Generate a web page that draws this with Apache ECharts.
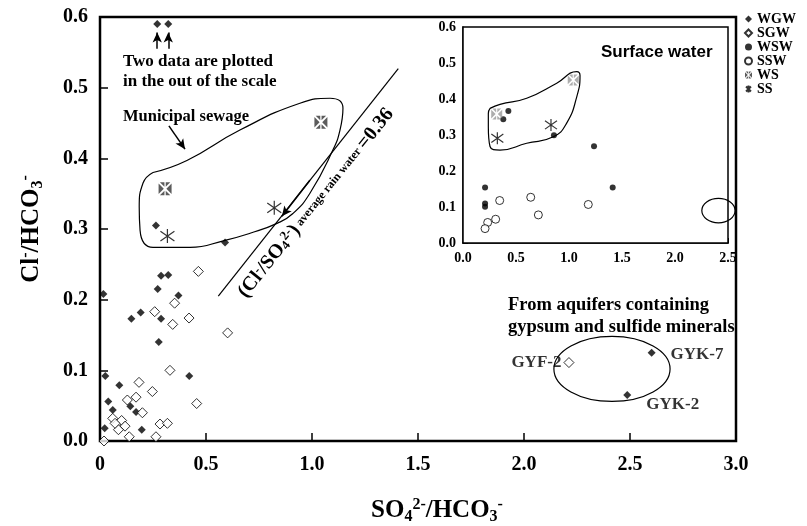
<!DOCTYPE html>
<html>
<head>
<meta charset="utf-8">
<script src="https://cdn.jsdelivr.net/npm/echarts@6/dist/echarts.min.js"></script>
<style>
html, body { margin: 0; padding: 0; background: #fff; }
#main { width: 807px; height: 526px; }
</style>
</head>
<body>
<div id="main"></div>
<script>
// main plot (groundwater + municipal sewage)
var wgw = [[0.288,0.234],[0.322,0.235],[0.016,0.208],[0.272,0.215],[0.37,0.206],[0.148,0.173],[0.192,0.182],
  [0.288,0.173],[0.277,0.14],[0.025,0.092],[0.091,0.079],[0.421,0.092],[0.039,0.056],[0.06,0.044],[0.143,0.049],
  [0.17,0.041],[0.022,0.018],[0.197,0.016],[0.264,0.305],[0.59,0.281]];
var wgwOutOfScale = [[0.27,0.59],[0.322,0.59]];
var sgw = [[0.464,0.24],[0.352,0.195],[0.258,0.183],[0.42,0.174],[0.343,0.165],[0.602,0.153],[0.33,0.1],
  [0.184,0.083],[0.247,0.07],[0.456,0.053],[0.129,0.058],[0.17,0.062],[0.2,0.04],[0.06,0.032],[0.102,0.029],
  [0.118,0.021],[0.087,0.016],[0.071,0.025],[0.283,0.024],[0.318,0.025],[0.138,0.006],[0.264,0.006],[0.019,0.0]];
var gypWgw = [[2.602,0.125],[2.487,0.065]];
var gypWgwNames = ['GYK-7','GYK-2'];
var gypSgw = [[2.212,0.111]];
var gypSgwNames = ['GYF-2'];
var wsMain = [[0.307,0.357],[1.042,0.451]];
var ssMain = [[0.318,0.29],[0.822,0.33]];
var sewageMain = [[0.25,0.380],[0.41,0.397],[0.66,0.440],[0.943,0.478],[1.085,0.485],[1.146,0.471],[1.132,0.440],
  [1.099,0.412],[0.991,0.351],[0.910,0.322],[0.835,0.308],[0.708,0.294],[0.590,0.284],[0.425,0.274],[0.25,0.274],
  [0.189,0.298],[0.185,0.331],[0.203,0.365],[0.25,0.380]];
var rainLine = [[0.558,0.205],[1.407,0.527]];
var gypEllipse = {cx: 2.415, cy: 0.102, rx: 0.274, ry: 0.046};
var mainXLabels = ['0','0.5','1.0','1.5','2.0','2.5','3.0'];
var mainYLabels = ['0.0','0.1','0.2','0.3','0.4','0.5','0.6'];

// inset (surface water)
var wsw = [[0.38,0.344],[0.428,0.367],[0.858,0.299],[1.236,0.269],[1.412,0.154],[0.208,0.154],[0.208,0.110],[0.208,0.101]];
var ssw = [[0.346,0.118],[0.639,0.127],[0.711,0.078],[1.182,0.107],[0.308,0.066],[0.233,0.057],[0.208,0.040]];
var wsInset = [[0.318,0.358],[1.04,0.453]];
var ssInset = [[0.324,0.291],[0.83,0.328]];
var sewageInset = [[0.255,0.374],[0.349,0.385],[0.601,0.402],[0.884,0.444],[1.073,0.476],[1.104,0.465],[1.073,0.406],
  [0.978,0.333],[0.852,0.295],[0.601,0.277],[0.349,0.258],[0.255,0.268],[0.239,0.323],[0.239,0.360],[0.255,0.374]];
var insetEllipse = {cx: 2.41, cy: 0.090, rx: 0.157, ry: 0.034};
var insetXLabels = ['0.0','0.5','1.0','1.5','2.0','2.5'];
var insetYLabels = ['0.0','0.1','0.2','0.3','0.4','0.5','0.6'];

var serif = 'Liberation Serif';
var wsPath = 'path://M1,0L4.5,0L4.5,3.5Z M5.5,0L9,0L5.5,3.5Z M10,1L10,9L6,5Z M9,10L5.5,10L5.5,6.5Z M4.5,10L1,10L4.5,6.5Z M0,9L0,1L4,5Z';
var ssPath = 'path://M5,0L5,10M1.5,1.5L8.5,8.5M1.5,8.5L8.5,1.5';

var chart = echarts.init(document.getElementById('main'));

function tickLbl(arr, step) {
  return function (v) { var i = Math.round(v / step); return arr[i] !== undefined ? arr[i] : ''; };
}

var titleRich = {
  a: { fontFamily: serif, fontWeight: 'bold', fontSize: 25, color: '#000' },
  sub: { fontFamily: serif, fontWeight: 'bold', fontSize: 16, color: '#000', verticalAlign: 'bottom', padding: [12, 0, 0, 0] },
  sup: { fontFamily: serif, fontWeight: 'bold', fontSize: 16, color: '#000', verticalAlign: 'top', padding: [0, 0, 12, 0] }
};

var wgwStyle = { symbol: 'diamond', symbolSize: 8, itemStyle: { color: '#000' } };
var sgwStyle = { symbol: 'diamond', symbolSize: 10, itemStyle: { color: '#fff', borderColor: '#000', borderWidth: 1 } };

function labelled(pts, names, pos) {
  return pts.map(function (p, i) {
    return { value: p, label: { show: true, formatter: names[i], position: pos[i].p, offset: pos[i].o,
      fontFamily: serif, fontWeight: 'bold', fontSize: 17, color: '#000' } };
  });
}

var arrowLines = [
  [{ coord: [0.27, 0.555] }, { coord: [0.27, 0.578] }],
  [{ coord: [0.322, 0.555] }, { coord: [0.322, 0.578] }],
  [{ coord: [0.325, 0.446] }, { coord: [0.401, 0.413] }],
  [{ coord: [0.99, 0.369] }, { coord: [0.858, 0.318] }]
];

var option = {
  animation: false,
  backgroundColor: '#fff',
  grid: [
    { left: 100, top: 17, right: 71, bottom: 85, outerBoundsMode: 'none', show: true, borderColor: '#000', borderWidth: 2.5, backgroundColor: '#fff' },
    { left: 463, top: 27, width: 265, height: 216, outerBoundsMode: 'none', show: true, borderColor: '#000', borderWidth: 1.5, backgroundColor: '#fff', z: 3 }
  ],
  xAxis: [
    { gridIndex: 0, type: 'value', min: 0, max: 3, interval: 0.5,
      axisLine: { lineStyle: { color: '#000', width: 2 } },
      axisTick: { inside: true, length: 8, lineStyle: { color: '#000', width: 1.5 } },
      splitLine: { show: false },
      axisLabel: { formatter: tickLbl(mainXLabels, 0.5), fontFamily: serif, fontWeight: 'bold', fontSize: 20, color: '#000', margin: 14 },
      name: '{a|SO}{sub|4}{sup|2-}{a|/HCO}{sub|3}{sup|-}', nameLocation: 'middle', nameGap: 56,
      nameTextStyle: { fontFamily: serif, fontWeight: 'bold', color: '#000', padding: [0, 0, 0, 38], rich: titleRich } },
    { gridIndex: 1, type: 'value', min: 0, max: 2.5, interval: 0.5,
      axisLine: { lineStyle: { color: '#000', width: 1.5 } },
      axisTick: { inside: true, length: 5, lineStyle: { color: '#000' } },
      minorTick: { show: true, splitNumber: 5, length: 3, lineStyle: { color: '#000' } },
      splitLine: { show: false },
      axisLabel: { formatter: tickLbl(insetXLabels, 0.5), fontFamily: serif, fontWeight: 'bold', fontSize: 14, color: '#000', margin: 8 } }
  ],
  yAxis: [
    { gridIndex: 0, type: 'value', min: 0, max: 0.6, interval: 0.1,
      axisLine: { lineStyle: { color: '#000', width: 2 } },
      axisTick: { inside: true, length: 8, lineStyle: { color: '#000', width: 1.5 } },
      splitLine: { show: false },
      axisLabel: { formatter: tickLbl(mainYLabels, 0.1), fontFamily: serif, fontWeight: 'bold', fontSize: 20, color: '#000', margin: 12 },
      name: '{a|Cl}{sup|-}{a|/HCO}{sub|3}{sup|-}', nameLocation: 'middle', nameGap: 54, nameRotate: 90,
      nameTextStyle: { fontFamily: serif, fontWeight: 'bold', color: '#000', rich: titleRich } },
    { gridIndex: 1, type: 'value', min: 0, max: 0.6, interval: 0.1,
      axisLine: { lineStyle: { color: '#000', width: 1.5 } },
      axisTick: { inside: true, length: 5, lineStyle: { color: '#000' } },
      minorTick: { show: true, splitNumber: 2, length: 3, lineStyle: { color: '#000' } },
      splitLine: { show: false },
      axisLabel: { formatter: tickLbl(insetYLabels, 0.1), fontFamily: serif, fontWeight: 'bold', fontSize: 14, color: '#000', margin: 7 } }
  ],
  legend: {
    orient: 'vertical', left: 739, top: 7, itemWidth: 7, itemHeight: 7, itemGap: 0,
    data: ['WGW','SGW','WSW','SSW','WS','SS'],
    textStyle: { fontFamily: serif, fontWeight: 'bold', fontSize: 14, lineHeight: 12, color: '#000' },
    selectedMode: false
  },
  series: [
    { type: 'line', xAxisIndex: 0, yAxisIndex: 0, data: sewageMain, smooth: 0.5, symbol: 'none',
      lineStyle: { color: '#000', width: 1.2 }, silent: true, z: 1 },
    { type: 'line', xAxisIndex: 0, yAxisIndex: 0, data: rainLine, symbol: 'none',
      lineStyle: { color: '#000', width: 1.2 }, silent: true, z: 1,
      markLine: { silent: true, symbol: ['none', 'arrow'], symbolSize: [7, 10], label: { show: false },
        lineStyle: { color: '#000', width: 1.5, type: 'solid' }, data: arrowLines } },
    Object.assign({ name: 'WGW', type: 'scatter', xAxisIndex: 0, yAxisIndex: 0, data: wgw, z: 4 }, wgwStyle),
    Object.assign({ name: 'WGW', type: 'scatter', xAxisIndex: 0, yAxisIndex: 0, data: wgwOutOfScale, clip: false, z: 4 }, wgwStyle),
    Object.assign({ name: 'WGW', type: 'scatter', xAxisIndex: 0, yAxisIndex: 0, z: 4,
      data: labelled(gypWgw, gypWgwNames, [{ p: 'right', o: [10, 2] }, { p: 'right', o: [10, 10] }]) }, wgwStyle),
    Object.assign({ name: 'SGW', type: 'scatter', xAxisIndex: 0, yAxisIndex: 0, data: sgw, clip: false, z: 4 }, sgwStyle),
    Object.assign({ name: 'SGW', type: 'scatter', xAxisIndex: 0, yAxisIndex: 0, z: 4,
      data: labelled(gypSgw, gypSgwNames, [{ p: 'left', o: [3, 0] }]) }, sgwStyle),
    { name: 'WS', type: 'scatter', xAxisIndex: 0, yAxisIndex: 0, data: wsMain, symbol: wsPath, symbolSize: 13,
      itemStyle: { color: '#333' }, z: 4 },
    { name: 'SS', type: 'scatter', xAxisIndex: 0, yAxisIndex: 0, data: ssMain, symbol: ssPath, symbolSize: 14,
      itemStyle: { color: 'rgba(0,0,0,0)', borderColor: '#000', borderWidth: 1.2 }, z: 4 },

    // inset
    { type: 'line', xAxisIndex: 1, yAxisIndex: 1, data: sewageInset, smooth: 0.5, symbol: 'none',
      lineStyle: { color: '#000', width: 1.2 }, silent: true, z: 5 },
    { name: 'WSW', type: 'scatter', xAxisIndex: 1, yAxisIndex: 1, data: wsw, symbol: 'circle', symbolSize: 6,
      itemStyle: { color: '#000' }, z: 6 },
    { name: 'SSW', type: 'scatter', xAxisIndex: 1, yAxisIndex: 1, data: ssw, symbol: 'circle', symbolSize: 8,
      itemStyle: { color: '#fff', borderColor: '#000', borderWidth: 1 }, z: 6 },
    { name: 'WS', type: 'scatter', xAxisIndex: 1, yAxisIndex: 1, data: wsInset, symbol: wsPath, symbolSize: 11,
      itemStyle: { color: '#999' }, z: 6 },
    { name: 'SS', type: 'scatter', xAxisIndex: 1, yAxisIndex: 1, data: ssInset, symbol: ssPath, symbolSize: 12,
      itemStyle: { color: 'rgba(0,0,0,0)', borderColor: '#000', borderWidth: 1.2 }, z: 6 }
  ]
};
chart.setOption(option);

// ellipses and free text placed through the axes' own scales
function ell(gi, e) {
  var c = chart.convertToPixel({ gridIndex: gi }, [e.cx, e.cy]);
  var p = chart.convertToPixel({ gridIndex: gi }, [e.cx + e.rx, e.cy + e.ry]);
  return { type: 'ellipse', z: 10, shape: { cx: c[0], cy: c[1], rx: Math.abs(p[0] - c[0]), ry: Math.abs(c[1] - p[1]) },
    style: { fill: null, stroke: '#000', lineWidth: 1.2 }, silent: true };
}
function txt(x, y, s, size, font) {
  return { type: 'text', x: x, y: y, z: 10, silent: true,
    style: { text: s, fontFamily: font || serif, fontWeight: 'bold', fontSize: size, fill: '#000', verticalAlign: 'middle' } };
}

chart.setOption({
  graphic: [
    ell(0, gypEllipse),
    ell(1, insetEllipse),
    txt(123, 62, 'Two data are plotted', 17),
    txt(123, 82, 'in the out of the scale', 17),
    txt(123, 117, 'Municipal sewage', 16.5),
    txt(508, 305, 'From aquifers containing', 18.5),
    txt(508, 327, 'gypsum and sulfide minerals', 18.5),
    txt(601, 52, 'Surface water', 17, 'Liberation Sans'),
    { type: 'text', x: 316, y: 203, rotation: 0.894, z: 10, silent: true,
      style: { text: '{a|(Cl}{sup|-}{a|/SO}{sub|4}{sup|2-}{a|)} {s|average rain water }{a|=0.36}',
        align: 'center', verticalAlign: 'middle', fill: '#000',
        rich: {
          a: { fontFamily: serif, fontWeight: 'bold', fontSize: 20, fill: '#000' },
          s: { fontFamily: serif, fontWeight: 'bold', fontSize: 12, fill: '#000' },
          sub: { fontFamily: serif, fontWeight: 'bold', fontSize: 13, fill: '#000', verticalAlign: 'bottom' },
          sup: { fontFamily: serif, fontWeight: 'bold', fontSize: 13, fill: '#000', verticalAlign: 'top' }
        } } }
  ]
});
</script>
</body>
</html>
